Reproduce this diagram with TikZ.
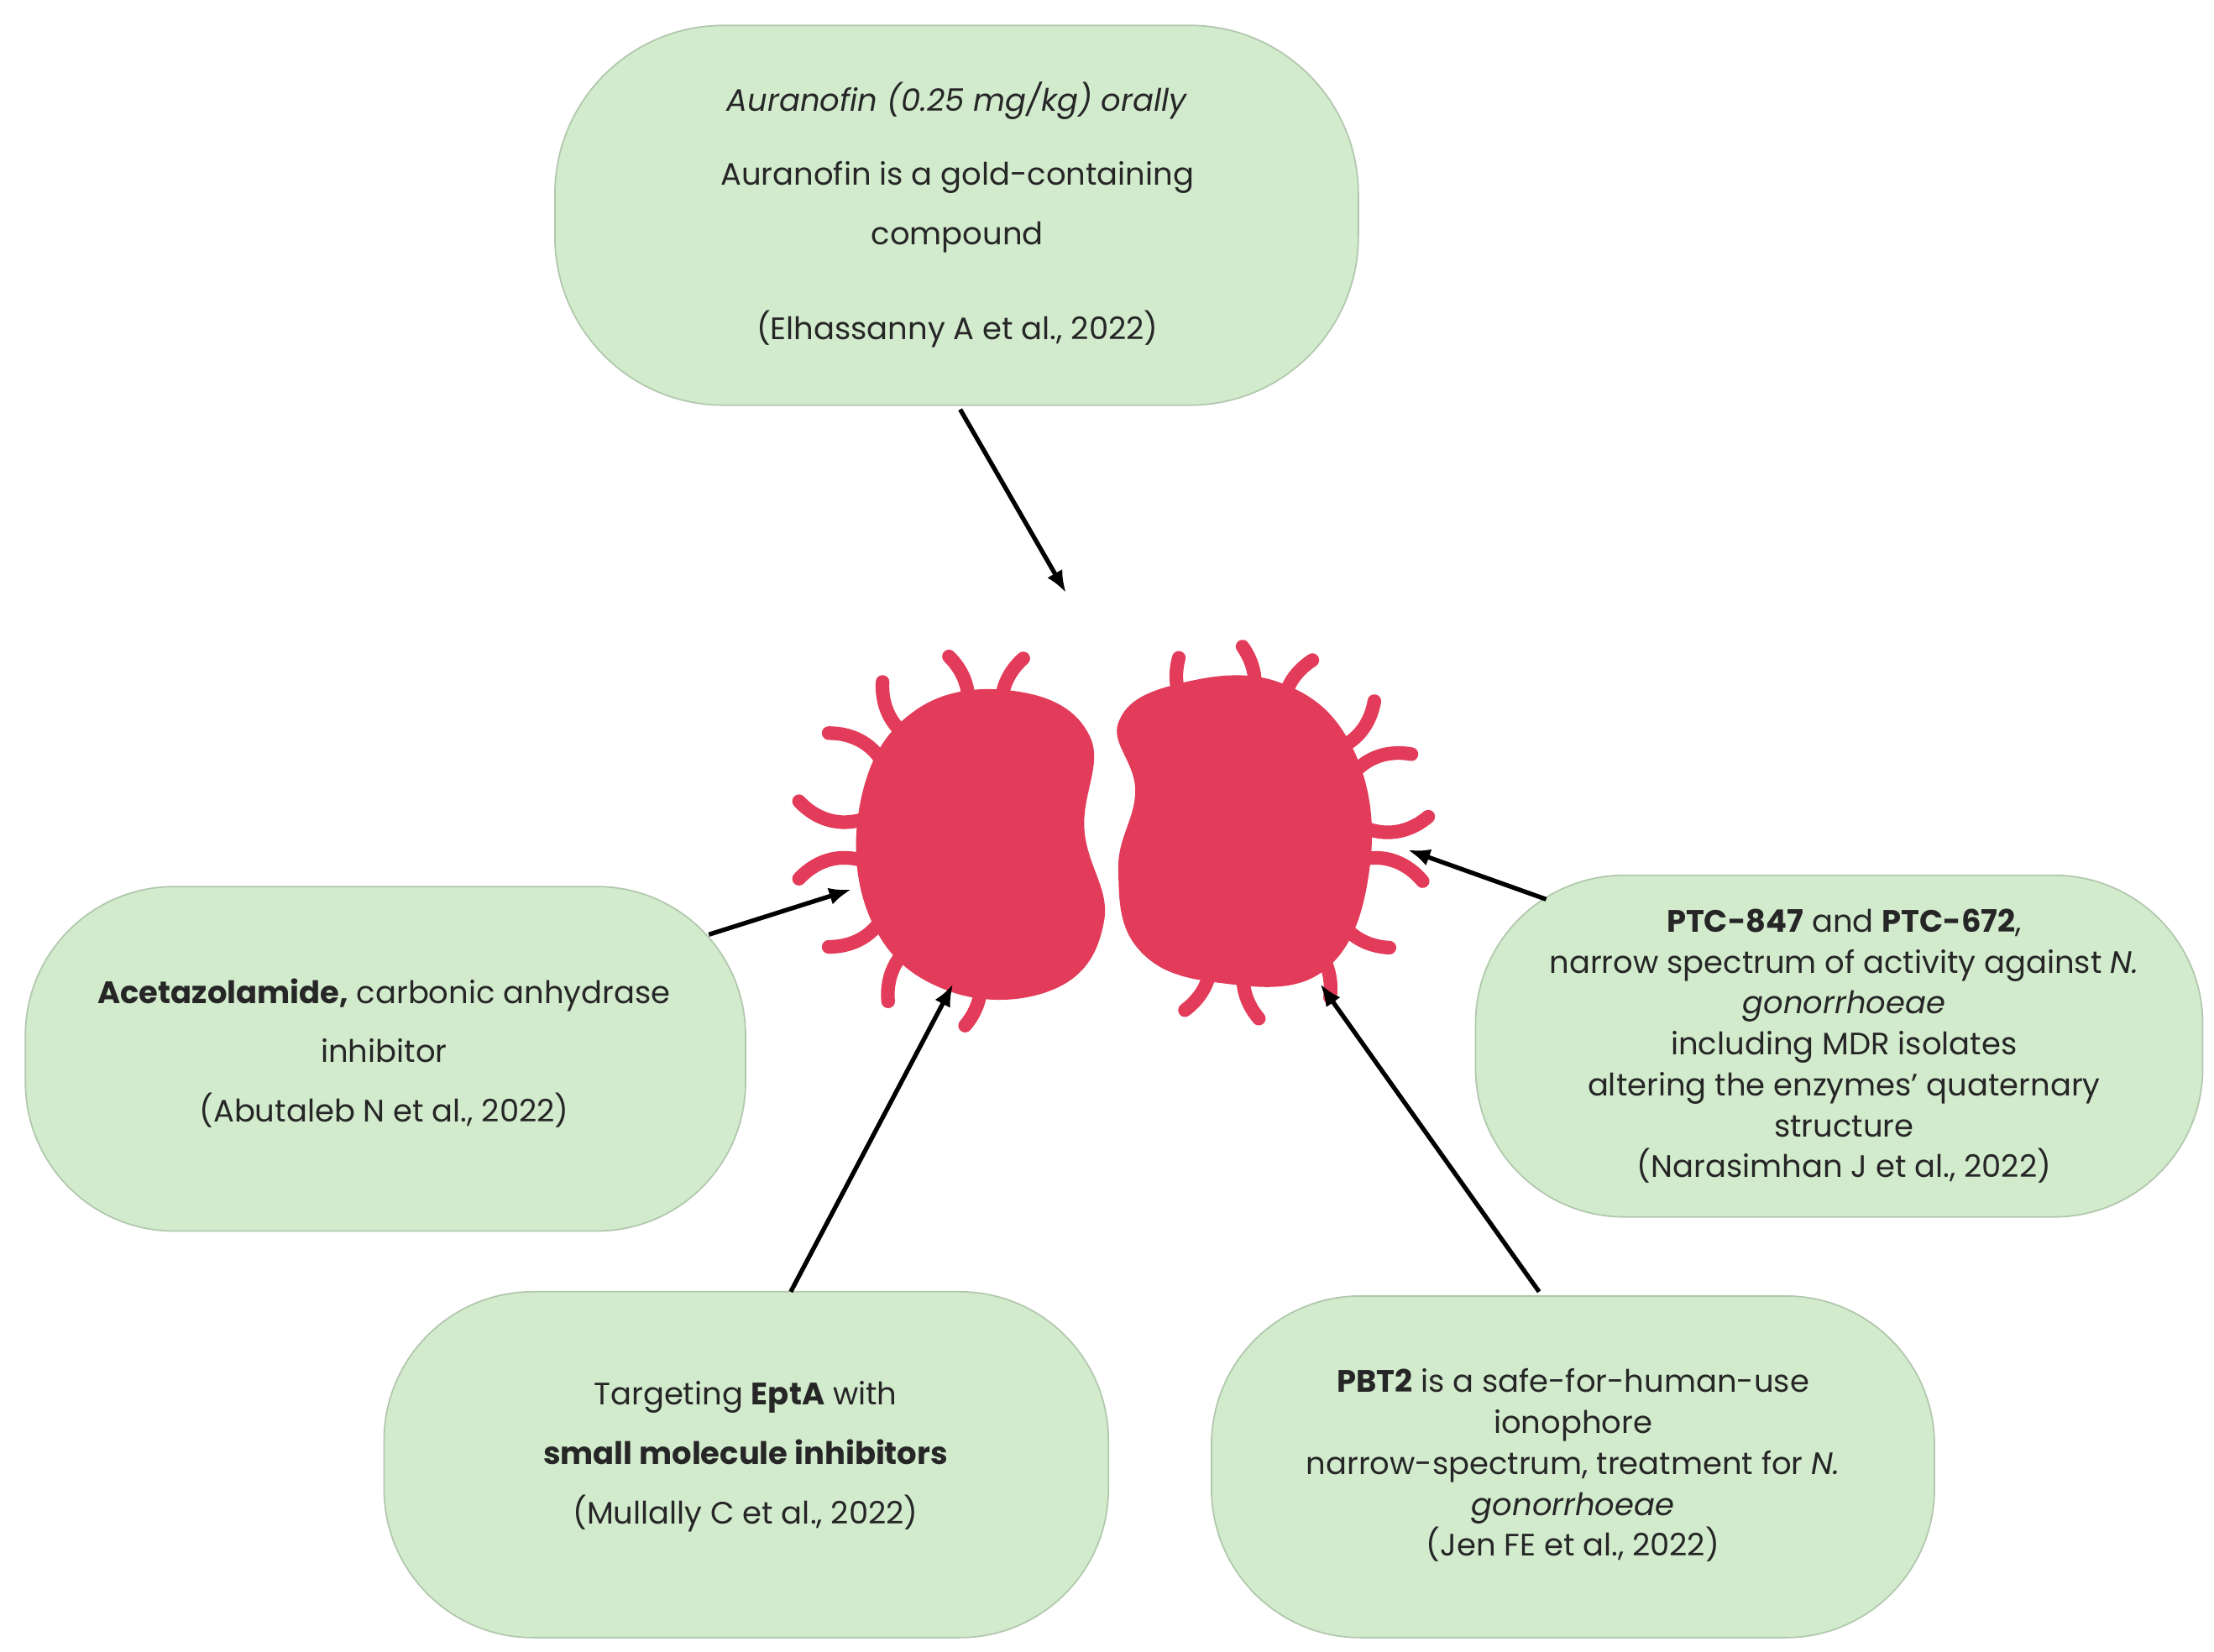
\documentclass[tikz,border=0pt]{standalone}
\usepackage{fontspec}
\setmainfont{Poppins}
\begin{document}
\begin{tikzpicture}[x=0.02cm,y=-0.02cm,
 box/.style={draw=boxg!85!black,line width=0.6pt,fill=boxg},
 txt/.style={align=center,font=\fontsize{12.5}{24}\selectfont,text=black!85},
 arr/.style={-{Latex[length=9pt,width=7pt]},line width=1.8pt},
 hair/.style={draw=bact,line width=5.5pt,line cap=round}]
\usetikzlibrary{arrows.meta}
\definecolor{boxg}{HTML}{D2EBCD}
\definecolor{bact}{HTML}{E23C5A}
\useasboundingbox (0,0) rectangle (1568,1170);
\fill[white] (0,0) rectangle (1568,1170);
% boxes
\draw[box,rounded corners=68pt] (393,18) rectangle (962,287);
\coordinate (tb) at (680,290);
\node[txt] (t) at (678,152) {\textit{Auranofin (0.25 mg/kg) orally}\\[6pt] Auranofin is a gold-containing\\compound\\[14pt](Elhassanny A et al., 2022)};
\draw[box,rounded corners=60pt] (18,628) rectangle (528,872);
\node[txt] (l) at (272,746) {\textbf{Acetazolamide,} carbonic anhydrase\\inhibitor\\(Abutaleb N et al., 2022)};
\draw[box,rounded corners=60pt] (272,915) rectangle (785,1160);
\node[txt] (bl) at (528,1032) {Targeting \textbf{EptA} with\\\textbf{small molecule inhibitors}\\(Mullally C et al., 2022)};
\draw[box,rounded corners=60pt] (858,918) rectangle (1370,1160);
\node[txt,font=\fontsize{12.5}{16.5}\selectfont] (br) at (1114,1038) {\textbf{PBT2} is a safe-for-human-use\\ionophore\\narrow-spectrum, treatment for \textit{N.}\\\textit{gonorrhoeae}\\(Jen FE et al., 2022)};
\draw[box,rounded corners=60pt] (1045,620) rectangle (1560,862);
\node[txt,font=\fontsize{12.5}{16.5}\selectfont] (r) at (1306,741) {\textbf{PTC-847} and \textbf{PTC-672},\\narrow spectrum of activity against \textit{N.}\\\textit{gonorrhoeae}\\including MDR isolates\\altering the enzymes’ quaternary\\structure\\(Narasimhan J et al., 2022)};
% bacteria
\coordinate (cl) at (695,595);
\coordinate (cr) at (880,590);
\foreach \a/\b in {95/35,120/-35,145/35,168/-35,192/35,215/-35,238/35,260/-35,283/35}
  \draw[hair] (cl) ++(\a:80) to[bend left=\b] ++(\a:52);
\foreach \a/\b in {85/-35,62/35,38/-35,15/35,-5/-35,-25/35,-45/-35,-68/35,-90/-35,-110/35,108/35}
  \draw[hair] (cr) ++(\a:80) to[bend left=\b] ++(\a:52);
\fill[bact] plot[smooth cycle,tension=0.7] coordinates {(650,502)(722,490)(772,522)(768,588)(782,652)(748,700)(672,702)(617,652)(610,565)};
\fill[bact] plot[smooth cycle,tension=0.7] coordinates {(832,485)(905,483)(958,530)(970,615)(937,688)(862,696)(806,672)(792,615)(804,560)(792,512)};
\coordinate (at) at (755,420);
\coordinate (al) at (603,630);
\coordinate (abl) at (675,697);
\coordinate (abr) at (935,697);
\coordinate (ar) at (997,602);
\coordinate (sl) at (502,662);
\coordinate (sbl) at (560,915);
\coordinate (sbr) at (1090,915);
\coordinate (sr) at (1095,637);
\draw[arr] (tb) -- (at);
\draw[arr] (sl) -- (al);
\draw[arr] (sbl) -- (abl);
\draw[arr] (sbr) -- (abr);
\draw[arr] (sr) -- (ar);
\end{tikzpicture}
\end{document}
